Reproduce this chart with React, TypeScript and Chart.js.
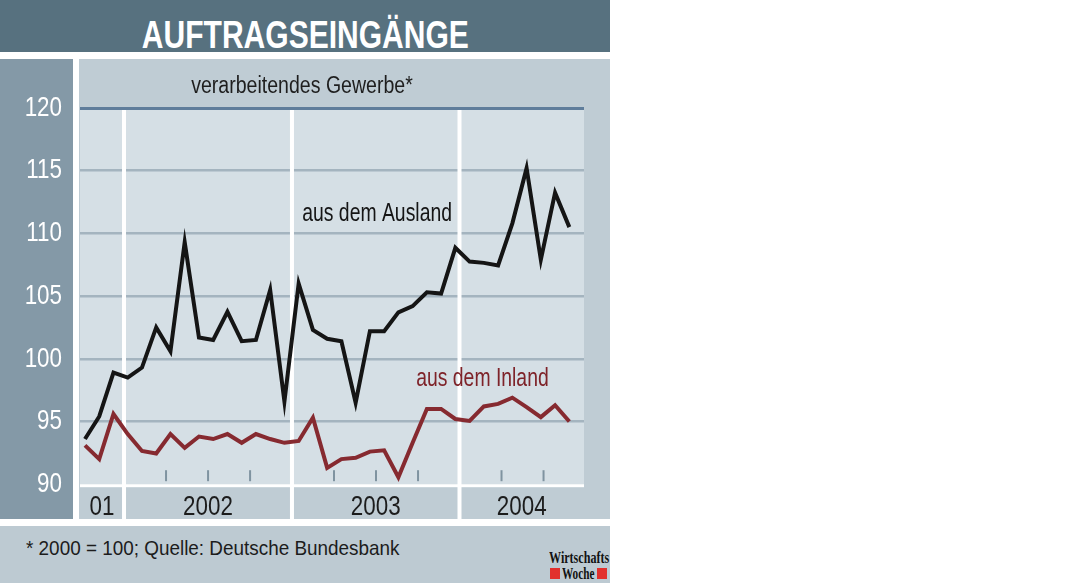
import { useEffect, useRef } from "react";
import { Chart, registerables } from "chart.js";

Chart.register(...registerables);

// Monate Okt 2001 bis Aug 2004
const MONTHS = [
  "Okt 01", "Nov 01", "Dez 01",
  "Jan 02", "Feb 02", "Mär 02", "Apr 02", "Mai 02", "Jun 02",
  "Jul 02", "Aug 02", "Sep 02", "Okt 02", "Nov 02", "Dez 02",
  "Jan 03", "Feb 03", "Mär 03", "Apr 03", "Mai 03", "Jun 03",
  "Jul 03", "Aug 03", "Sep 03", "Okt 03", "Nov 03", "Dez 03",
  "Jan 04", "Feb 04", "Mär 04", "Apr 04", "Mai 04", "Jun 04",
  "Jul 04", "Aug 04",
];

const AUSLAND = [
  93.6, 95.4, 98.9,
  98.5, 99.3, 102.5, 100.6, 109.3, 101.7, 101.5, 103.75, 101.4, 101.5, 105.5, 96.6,
  106.0, 102.3, 101.6, 101.4, 96.5, 102.2, 102.2, 103.7, 104.2, 105.3, 105.2, 108.85,
  107.75, 107.65, 107.45, 110.8, 115.2, 107.9, 113.25, 110.5,
];

const INLAND = [
  93.1, 92.0, 95.6,
  94.0, 92.65, 92.45, 94.0, 92.9, 93.8, 93.6, 94.0, 93.3, 94.0, 93.6, 93.3,
  93.45, 95.3, 91.3, 92.0, 92.1, 92.6, 92.7, 90.55, 93.3, 96.0, 96.0, 95.2,
  95.05, 96.2, 96.4, 96.9, 96.15, 95.35, 96.3, 95.0,
];

const Y_TICKS = [90, 95, 100, 105, 110, 115, 120];
const YEAR_LABELS = ["01", "2002", "2003", "2004"];

// Jahresgrenzen in Monatsindex-Einheiten (wie in der Grafik gesetzt)
const X_MIN = -0.35;
const X_MAX = 35.03;
const YEAR_BOUNDS = [2.74, 14.53, 26.29];
const QUARTER = 2.95;

const FONT = '"Liberation Sans", Arial, sans-serif';

// schmale Schrift: Achsbeschriftungen horizontal stauchen
function narrowLabels(scale: any, sx: number, dy: number) {
  if (scale._narrow) return;
  scale._narrow = true;
  scale.drawLabels = function (area: any) {
    const ctx = this.ctx;
    for (const item of this.getLabelItems(area)) {
      const o = item.options;
      ctx.save();
      ctx.translate(o.translation[0], o.translation[1] + dy);
      ctx.scale(sx, 1);
      ctx.font = item.font.string;
      ctx.fillStyle = o.color;
      ctx.textAlign = o.textAlign;
      ctx.textBaseline = o.textBaseline;
      ctx.fillText(item.label, 0, item.textOffset);
      ctx.restore();
    }
  };
}

function narrowText(ctx: CanvasRenderingContext2D, text: string, x: number, y: number, sx: number) {
  ctx.save();
  ctx.translate(x, y);
  ctx.scale(sx, 1);
  ctx.fillText(text, 0, 0);
  ctx.restore();
}

const panelPlugin = {
  id: "panel",
  beforeDraw(chart: any) {
    const { ctx, chartArea: a } = chart;
    const W = chart.width;
    const H = chart.height;
    narrowLabels(chart.scales.y, 0.8, 0);
    narrowLabels(chart.scales.x, 0.8, -2);
    ctx.save();
    ctx.fillStyle = "#8499a7";
    ctx.fillRect(0, 0, 73, H);
    ctx.fillStyle = "#bfccd4";
    ctx.fillRect(79, 0, W - 79, H);
    ctx.fillStyle = "#d5dfe5";
    ctx.fillRect(a.left, a.top, a.right - a.left, a.bottom - a.top);
    ctx.restore();
  },
  beforeDatasetsDraw(chart: any) {
    const { ctx, chartArea: a, scales } = chart;
    const x = scales.x;
    ctx.save();
    // weiße Linie unter dem Diagramm
    ctx.fillStyle = "#ffffff";
    ctx.fillRect(a.left, a.bottom, a.right - a.left, 3);
    // Quartalsstriche
    ctx.strokeStyle = "#7f93a0";
    ctx.lineWidth = 2;
    YEAR_BOUNDS.forEach((b) => {
      for (let k = 1; k <= 3; k++) {
        const v = b + k * QUARTER;
        if (v >= X_MAX) continue;
        const px = x.getPixelForValue(v);
        ctx.beginPath();
        ctx.moveTo(px, a.bottom - 14);
        ctx.lineTo(px, a.bottom - 3);
        ctx.stroke();
      }
    });
    // weiße Trennlinien der Jahre
    ctx.fillStyle = "#ffffff";
    YEAR_BOUNDS.forEach((b) => {
      const px = x.getPixelForValue(b);
      ctx.fillRect(px - 2, a.top + 2, 4, chart.height - a.top);
    });
    ctx.restore();
  },
  afterDatasetsDraw(chart: any) {
    const { ctx, scales } = chart;
    const { x, y } = scales;
    ctx.save();
    ctx.textBaseline = "alphabetic";
    ctx.textAlign = "center";
    ctx.font = `23px ${FONT}`;
    ctx.fillStyle = "#1e1e1e";
    narrowText(ctx, "verarbeitendes Gewerbe*", 302, 34, 0.85);
    ctx.textAlign = "left";
    ctx.font = `25.5px ${FONT}`;
    ctx.fillStyle = "#151515";
    narrowText(ctx, "aus dem Ausland", x.getPixelForValue(15.25), y.getPixelForValue(110.95), 0.76);
    ctx.fillStyle = "#7e2329";
    narrowText(ctx, "aus dem Inland", x.getPixelForValue(23.25), y.getPixelForValue(97.8), 0.76);
    ctx.restore();
  },
};

function AuftragsChart() {
  const canvasRef = useRef<HTMLCanvasElement | null>(null);

  useEffect(() => {
    if (!canvasRef.current) return;
    const ctx = canvasRef.current.getContext("2d");
    if (!ctx) return;

    const yearMids = YEAR_LABELS.map((_, i) => {
      const lo = i === 0 ? X_MIN : YEAR_BOUNDS[i - 1];
      const hi = i === YEAR_BOUNDS.length ? X_MAX : YEAR_BOUNDS[i];
      return (lo + hi) / 2;
    });

    const chart = new Chart(ctx, {
      type: "line",
      data: {
        datasets: [
          {
            label: "aus dem Ausland",
            data: AUSLAND.map((v, i) => ({ x: i, y: v, m: MONTHS[i] })),
            borderColor: "#151515",
            borderWidth: 4,
            pointRadius: 0,
            tension: 0,
            borderJoinStyle: "miter",
          },
          {
            label: "aus dem Inland",
            data: INLAND.map((v, i) => ({ x: i, y: v, m: MONTHS[i] })),
            borderColor: "#862a30",
            borderWidth: 4,
            pointRadius: 0,
            tension: 0,
            borderJoinStyle: "miter",
          },
        ],
      },
      options: {
        animation: false,
        responsive: false,
        maintainAspectRatio: false,
        layout: { padding: { top: 49, right: 26, left: 0, bottom: 0 } },
        plugins: { legend: { display: false }, tooltip: { enabled: false }, title: { display: false } },
        scales: {
          x: {
            type: "linear",
            min: X_MIN,
            max: X_MAX,
            grid: { display: false },
            border: { display: false },
            afterFit: (s: any) => {
              s.height = 32;
            },
            afterBuildTicks: (s: any) => {
              s.ticks = yearMids.map((v) => ({ value: v }));
            },
            ticks: {
              autoSkip: false,
              maxRotation: 0,
              padding: 0,
              color: "#1c1c1c",
              font: { family: FONT, size: 28 },
              callback: (_v: any, i: number) => YEAR_LABELS[i],
            },
          },
          y: {
            min: 90,
            max: 120,
            afterFit: (s: any) => {
              s.width = 80;
            },
            afterBuildTicks: (s: any) => {
              s.ticks = Y_TICKS.map((v) => ({ value: v }));
            },
            border: { display: false },
            grid: {
              drawTicks: false,
              color: (c: any) =>
                c.tick.value === 120 ? "#5f7d9b" : c.tick.value === 90 ? "rgba(0,0,0,0)" : "#a4b4bf",
              lineWidth: (c: any) => (c.tick.value === 120 ? 3 : 2.6),
            },
            ticks: {
              padding: 18,
              color: "#ffffff",
              font: { family: FONT, size: 28 },
            },
          },
        },
      },
      plugins: [panelPlugin],
    } as any);

    return () => {
      chart.destroy();
    };
  }, []);

  return (
    <canvas
      ref={canvasRef}
      width={610}
      height={460}
      style={{ position: "absolute", left: 0, top: 59, width: 610, height: 460 }}
    />
  );
}

const narrow = (sx: number, origin: string) => ({
  display: "inline-block",
  transform: `scaleX(${sx})`,
  transformOrigin: origin,
  whiteSpace: "nowrap" as const,
});

export default function App() {
  return (
    <div
      style={{
        position: "absolute",
        left: 0,
        top: 0,
        width: 1090,
        height: 583,
        background: "#ffffff",
        overflow: "hidden",
        fontFamily: FONT,
      }}
    >
      <div
        style={{
          position: "absolute",
          left: 0,
          top: 0,
          width: 610,
          height: 52,
          background: "#57717f",
        }}
      >
        <div
          style={{
            position: "absolute",
            left: 0,
            top: 15,
            width: 610,
            textAlign: "center",
            color: "#ffffff",
            fontWeight: "bold",
            fontSize: 39,
            lineHeight: "39px",
          }}
        >
          <span style={narrow(0.77, "center")}>AUFTRAGSEINGÄNGE</span>
        </div>
      </div>
      <AuftragsChart />
      <div
        style={{
          position: "absolute",
          left: 0,
          top: 526,
          width: 610,
          height: 57,
          background: "#bdcad2",
        }}
      >
        <div
          style={{
            position: "absolute",
            left: 26,
            top: 11,
            fontSize: 21,
            lineHeight: "21px",
            color: "#1c1c1c",
          }}
        >
          <span style={narrow(0.9, "left top")}>* 2000 = 100; Quelle: Deutsche Bundesbank</span>
        </div>
        <div
          style={{
            position: "absolute",
            right: 1,
            top: 23,
            fontFamily: '"Liberation Serif", serif',
            fontWeight: "bold",
            fontSize: 17.5,
            lineHeight: "17px",
            color: "#111111",
          }}
        >
          <span style={narrow(0.69, "right top")}>Wirtschafts</span>
        </div>
        <div style={{ position: "absolute", left: 550, top: 42, width: 10, height: 11, background: "#e2302d" }} />
        <div style={{ position: "absolute", left: 597, top: 42, width: 10, height: 11, background: "#e2302d" }} />
        <div
          style={{
            position: "absolute",
            left: 562,
            top: 39,
            fontFamily: '"Liberation Serif", serif',
            fontWeight: "bold",
            fontSize: 17,
            lineHeight: "17px",
            color: "#111111",
          }}
        >
          <span style={narrow(0.66, "left top")}>Woche</span>
        </div>
      </div>
    </div>
  );
}
